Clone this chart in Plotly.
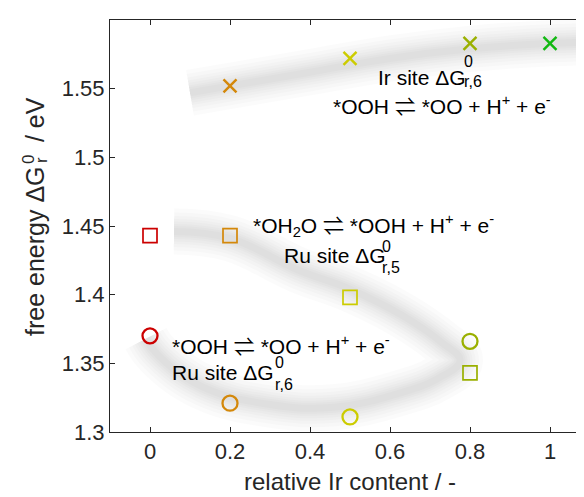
import plotly.graph_objects as go

# ---- data ----
x_ru = [0, 0.2, 0.5, 0.8]
dg6_ru = [1.370, 1.321, 1.311, 1.366]   # Ru site dG r,6 (circles)
dg5_ru = [1.443, 1.443, 1.398, 1.343]   # Ru site dG r,5 (squares)
x_ir = [0.2, 0.5, 0.8, 1.0]
dg6_ir = [1.552, 1.572, 1.583, 1.583]   # Ir site dG r,6 (crosses)

colors_by_x = {0: '#CC0000', 0.2: '#D4880A', 0.5: '#CCCC00', 0.8: '#9AB000', 1.0: '#11B811'}

x_ticks = [0, 0.2, 0.4, 0.6, 0.8, 1]
x_ticklabels = ['0', '0.2', '0.4', '0.6', '0.8', '1']
y_ticks = [1.3, 1.35, 1.4, 1.45, 1.5, 1.55, 1.6]
y_ticklabels = ['1.3', '1.35', '1.4', '1.45', '1.5', '1.55', '1.6']

# guide bands (blurred trend lines)
band_ir_x = [0.1, 0.2, 0.4, 0.6, 0.8, 1.0, 1.12]
band_ir_y = [1.547, 1.552, 1.562, 1.572, 1.579, 1.583, 1.584]
band_ru_x = [0.06, 0.2, 0.37, 0.5, 0.63, 0.73, 0.775, 0.72, 0.62, 0.46, 0.3, 0.13, 0.02, -0.01]
band_ru_y = [1.446, 1.441, 1.418, 1.404, 1.385, 1.365, 1.352, 1.339, 1.328, 1.318, 1.320, 1.333, 1.356, 1.368]

OFF = 8                      # page body margin of the html
W, H = 584 - OFF, 497 - OFF
L, R, T, B = 110 - OFF, 0, 20 - OFF, 65
PW, PH = W - L - R, H - T - B

def px(xp):                  # reference-pixel x -> paper
    return (xp - OFF - L) / PW

def py(yp):                  # reference-pixel y -> paper
    return (T + PH - (yp - OFF)) / PH

fig = go.Figure()

for w in [46, 38, 31, 25, 20, 15, 11, 7]:
    for bx, by in [(band_ir_x, band_ir_y), (band_ru_x, band_ru_y)]:
        fig.add_trace(go.Scatter(x=bx, y=by, mode='lines',
                                 line=dict(color='rgba(140,140,140,0.033)', width=w,
                                           shape='spline', smoothing=1.2),
                                 hoverinfo='skip', showlegend=False))

fig.add_trace(go.Scatter(x=x_ru, y=dg6_ru, mode='markers',
                         marker=dict(symbol='circle-open', size=15,
                                     color=[colors_by_x[v] for v in x_ru],
                                     line=dict(width=2.3)),
                         showlegend=False))
fig.add_trace(go.Scatter(x=x_ru, y=dg5_ru, mode='markers',
                         marker=dict(symbol='square-open', size=14,
                                     color=[colors_by_x[v] for v in x_ru],
                                     line=dict(width=1.7)),
                         showlegend=False))
fig.add_trace(go.Scatter(x=x_ir, y=dg6_ir, mode='markers',
                         marker=dict(symbol='x-thin-open', size=13,
                                     color=[colors_by_x[v] for v in x_ir],
                                     line=dict(width=2.4)),
                         showlegend=False))

FONT = 'Liberation Sans, Arial, sans-serif'
ann = []

def txt(text, xp, yp, size=21, xanchor='left', angle=0, yanchor='middle', color='#000000'):
    if xanchor == 'left':
        xp = xp - 2
    ann.append(dict(text=text, x=px(xp), y=py(yp), xref='paper', yref='paper',
                    xanchor=xanchor, yanchor=yanchor, showarrow=False,
                    textangle=angle, font=dict(family=FONT, size=size, color=color)))

ARROW = '<span style="font-family:Noto Sans CJK JP">\u21cc</span>'
react6 = '*OOH ' + ARROW + ' *OO + H<sup>+</sup> + e<sup>-</sup>'
react5 = '*OH<sub>2</sub>O ' + ARROW + ' *OOH + H<sup>+</sup> + e<sup>-</sup>'

SUB = 16
# Ir block
txt('Ir site \u0394G', 378, 77)
txt('0', 464, 62, SUB)
txt('r,6', 464, 81, SUB)
txt(react6, 333, 105)
# middle block
txt(react5, 253, 224)
txt('Ru site \u0394G', 284, 255)
txt('0', 382, 246, SUB)
txt('r,5', 382, 267, SUB)
# lower block
txt(react6, 172, 345)
txt('Ru site \u0394G', 172, 372)
txt('0', 275, 362, SUB)
txt('r,6', 275, 384, SUB)

# x axis title
txt('relative Ir content / -', 350, 481, 24, xanchor='center', color='#262626')

# y axis title pieces (rotated)
YT = 25
def ytxt(text, xp, yp, size, yanchor):
    ann.append(dict(text=text, x=px(xp), y=py(yp), xref='paper', yref='paper',
                    xanchor='center', yanchor=yanchor, showarrow=False, textangle=-90,
                    font=dict(family=FONT, size=size, color='#262626')))

ytxt('free energy \u0394G', 35, 164, YT, 'top')
ytxt('0', 29, 160, 17, 'middle')
ytxt('r', 42, 160, 17, 'middle')
ytxt(' / eV', 35, 151, YT, 'bottom')

fig.update_layout(
    width=W, height=H,
    margin=dict(l=L, r=R, t=T, b=B, pad=0, autoexpand=False),
    paper_bgcolor='white', plot_bgcolor='white',
    annotations=ann,
    showlegend=False,
    font=dict(family=FONT, color='#262626'),
)
fig.update_xaxes(range=[-0.1, -0.1 + PW / 400.0], tickvals=x_ticks, ticktext=x_ticklabels,
                 automargin=False,
                 showgrid=False, zeroline=False, showline=True, linecolor='#262626', linewidth=1,
                 mirror='ticks', ticks='inside', ticklen=5, tickcolor='#262626',
                 tickfont=dict(size=22, family=FONT, color='#262626'))
fig.update_yaxes(range=[1.3, 1.6], tickvals=y_ticks, ticktext=y_ticklabels,
                 automargin=False,
                 showgrid=False, zeroline=False, showline=True, linecolor='#262626', linewidth=1,
                 mirror=False, ticks='inside', ticklen=5, tickcolor='#262626',
                 tickfont=dict(size=22, family=FONT, color='#262626'))

fig.write_html('out.html')
